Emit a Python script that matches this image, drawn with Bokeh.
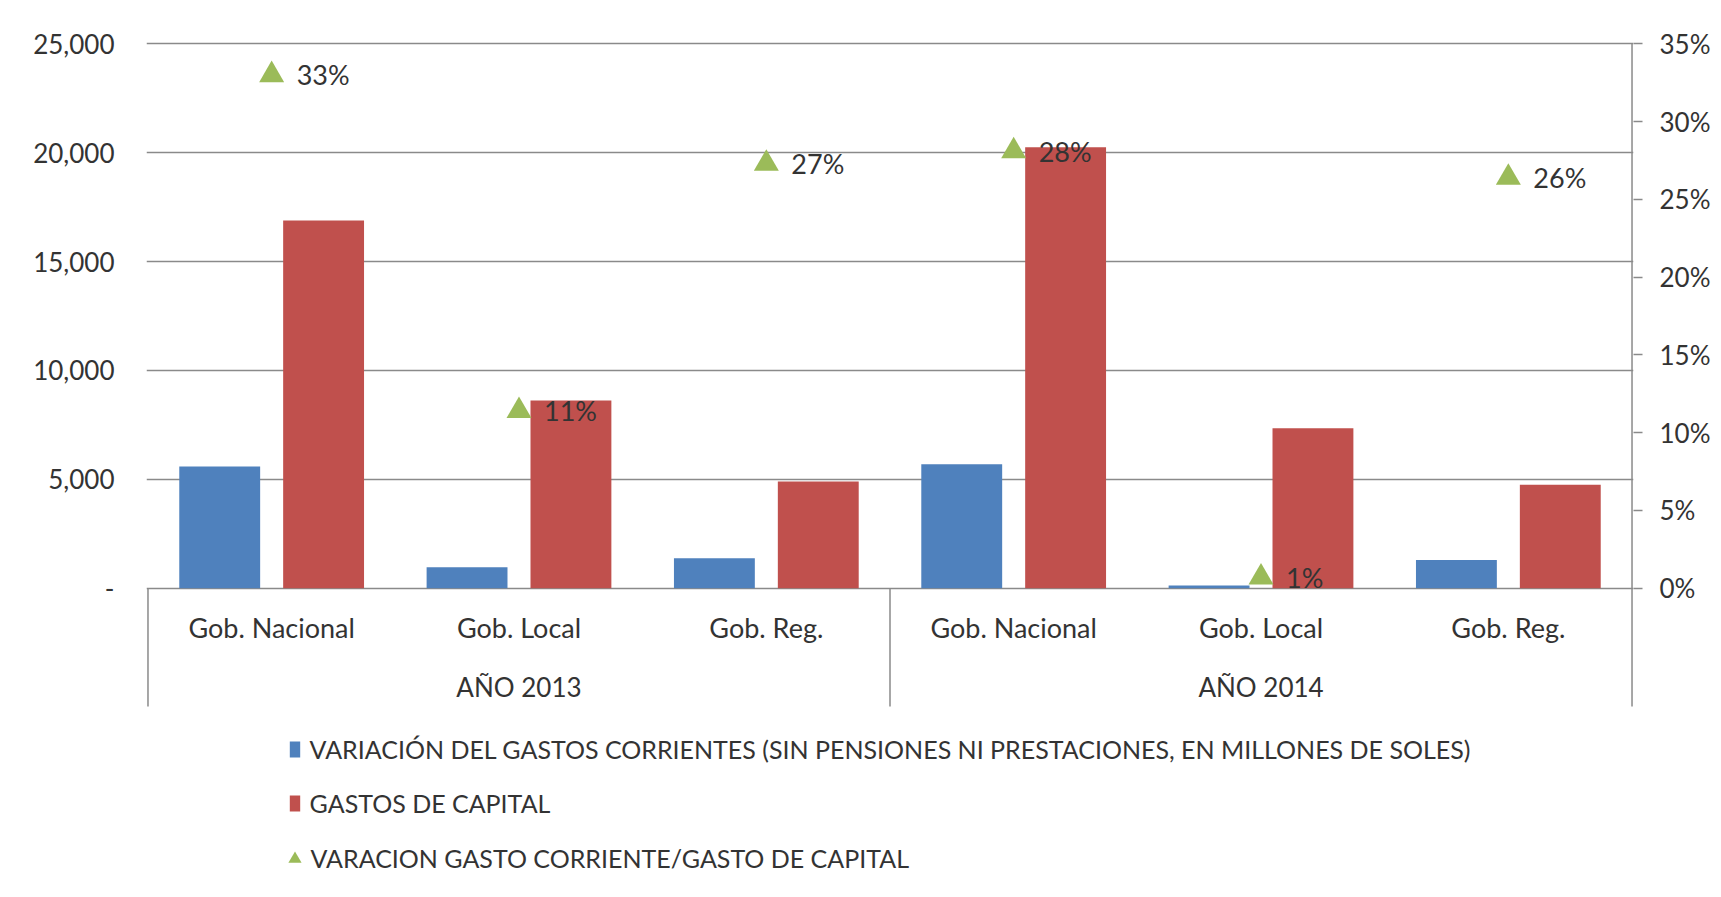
from bokeh.plotting import figure
from bokeh.models import (FactorRange, Range1d, LinearAxis, FixedTicker, NumeralTickFormatter,
                          CustomJSTickFormatter, ColumnDataSource, Legend, LegendItem)
from bokeh.transform import dodge
from bokeh.core.properties import value
from bokeh.embed import file_html
from bokeh.resources import INLINE

# ---------------- data ----------------
years = ["AÑO 2013", "AÑO 2014"]
levels = ["Gob. Nacional", "Gob. Local", "Gob. Reg."]
gasto_corriente = [5590, 960, 1375, 5695, 120, 1300]
gasto_capital = [16880, 8615, 4895, 20250, 7350, 4745]
ratio = [0.330, 0.114, 0.273, 0.281, 0.007, 0.264]
left_ticks = [0, 5000, 10000, 15000, 20000, 25000]
right_ticks = [0, 0.05, 0.10, 0.15, 0.20, 0.25, 0.30, 0.35]
series_names = [
    "VARIACIÓN DEL GASTOS CORRIENTES (SIN PENSIONES NI PRESTACIONES, EN MILLONES DE SOLES)",
    "GASTOS DE CAPITAL",
    "VARACION GASTO CORRIENTE/GASTO DE CAPITAL",
]

# ---------------- styles / layout ----------------
BLUE, RED, GREEN = "#4F81BD", "#C0504D", "#9BBB59"
GRID = "#8a8a8a"
TXT = "#333333"
FONT = "Lato"
W, H = 1713, 889
BL, BR, BT, BB = 146, 78, 41, 5
ZERO_PX = 587.7          # pixel row of the value 0
TOP_PX = 43.3            # pixel row of the top tick value
Y_MAX = left_ticks[-1]
P_MAX = right_ticks[-1]
px_per = (ZERO_PX - TOP_PX) / Y_MAX


def val_at(py):
    return (ZERO_PX - py) / px_per


y_start = val_at(H - BB)
y_end = val_at(BT)

factors = [(y, l) for y in years for l in levels]

p = figure(width=W, height=H, output_backend="svg", toolbar_location=None,
           x_range=FactorRange(factors=factors, factor_padding=0, group_padding=0,
                               subgroup_padding=0, range_padding=0.006,
                               range_padding_units="absolute"),
           y_range=Range1d(y_start, y_end), x_axis_location=None,
           min_border_left=BL, min_border_right=BR, min_border_top=BT, min_border_bottom=BB)
p.outline_line_color = None
p.background_fill_color = "white"
p.border_fill_color = "white"
p.xgrid.grid_line_color = None

# left axis
ya = p.yaxis[0]
ya.ticker = FixedTicker(ticks=left_ticks)
ya.formatter = CustomJSTickFormatter(code="return tick == 0 ? '-' : tick.toLocaleString('en-US');")
ya.axis_line_color = None
ya.major_tick_out = 0
ya.major_tick_in = 0
ya.minor_tick_line_color = None
ya.major_label_standoff = 32
ya.major_label_text_font = FONT
ya.major_label_text_font_size = "26px"
ya.major_label_text_color = TXT
p.ygrid.grid_line_color = GRID
p.ygrid.grid_line_width = 1.5

# right axis
p.extra_y_ranges = {"pct": Range1d(y_start * P_MAX / Y_MAX, y_end * P_MAX / Y_MAX)}
ra = LinearAxis(y_range_name="pct", ticker=FixedTicker(ticks=right_ticks),
                formatter=NumeralTickFormatter(format="0%"))
ra.axis_line_color = None
ra.major_tick_out = 9
ra.major_tick_in = 0
ra.major_tick_line_color = GRID
ra.major_tick_line_width = 1.5
ra.minor_tick_line_color = None
ra.major_label_standoff = 17
ra.major_label_text_font = FONT
ra.major_label_text_font_size = "26px"
ra.major_label_text_color = TXT
p.add_layout(ra, "right")

src = ColumnDataSource(dict(x=factors, corr=gasto_corriente, cap=gasto_capital, ratio=ratio,
                            lab=[f"{round(r * 100)}%" for r in ratio]))

r_blue = p.vbar(x=dodge("x", -0.21, range=p.x_range), top="corr", width=0.327, source=src,
                fill_color=BLUE, line_color=None)
r_red = p.vbar(x=dodge("x", 0.21, range=p.x_range), top="cap", width=0.327, source=src,
               fill_color=RED, line_color=None)

# category separators and right axis line
n = len(levels)
sep_x = [0, n, 2 * n]
p.segment(x0=sep_x, x1=sep_x, y0=[0, 0, Y_MAX], y1=[val_at(706)] * 3,
          line_color=GRID, line_width=1.5)

r_tri = p.scatter(x="x", y="ratio", source=src, y_range_name="pct", marker="triangle",
                  size=25, fill_color=GREEN, line_color=None)
p.text(x="x", y="ratio", text="lab", source=src, y_range_name="pct", x_offset=25,
       text_align="left", text_baseline="middle", text_font=value(FONT),
       text_font_size="27px", text_color=TXT)

# category labels
p.text(x=factors, y=[val_at(627)] * len(factors), text=[f[1] for f in factors],
       text_align="center", text_baseline="middle", text_font=value(FONT),
       text_font_size="27px", text_color=TXT)
p.text(x=years, y=[val_at(686)] * len(years), text=years,
       text_align="center", text_baseline="middle", text_font=value(FONT),
       text_font_size="26px", text_color=TXT)

frame_bottom = H - BB
common = dict(orientation="vertical", label_text_font=FONT, label_text_font_size="25px",
              label_text_color=TXT, padding=0, margin=0, spacing=0,
              border_line_color=None, background_fill_alpha=0)
leg1 = Legend(items=[LegendItem(label=series_names[0], renderers=[r_blue])],
              location=(287.6 - BL, frame_bottom - (748.6 + 15)),
              glyph_width=13, glyph_height=20, label_height=30, label_standoff=9, **common)
leg2 = Legend(items=[LegendItem(label=series_names[1], renderers=[r_red])],
              location=(287.6 - BL, frame_bottom - (803.4 + 15)),
              glyph_width=13, glyph_height=20, label_height=30, label_standoff=9, **common)
leg3 = Legend(items=[LegendItem(label=series_names[2], renderers=[r_tri])],
              location=(277.5 - BL, frame_bottom - (858.3 + 16.5)),
              glyph_width=33, glyph_height=33, label_height=33, label_standoff=0, **common)
for lg in (leg1, leg2, leg3):
    p.add_layout(lg)

open("out.html", "w").write(file_html(p, INLINE))
